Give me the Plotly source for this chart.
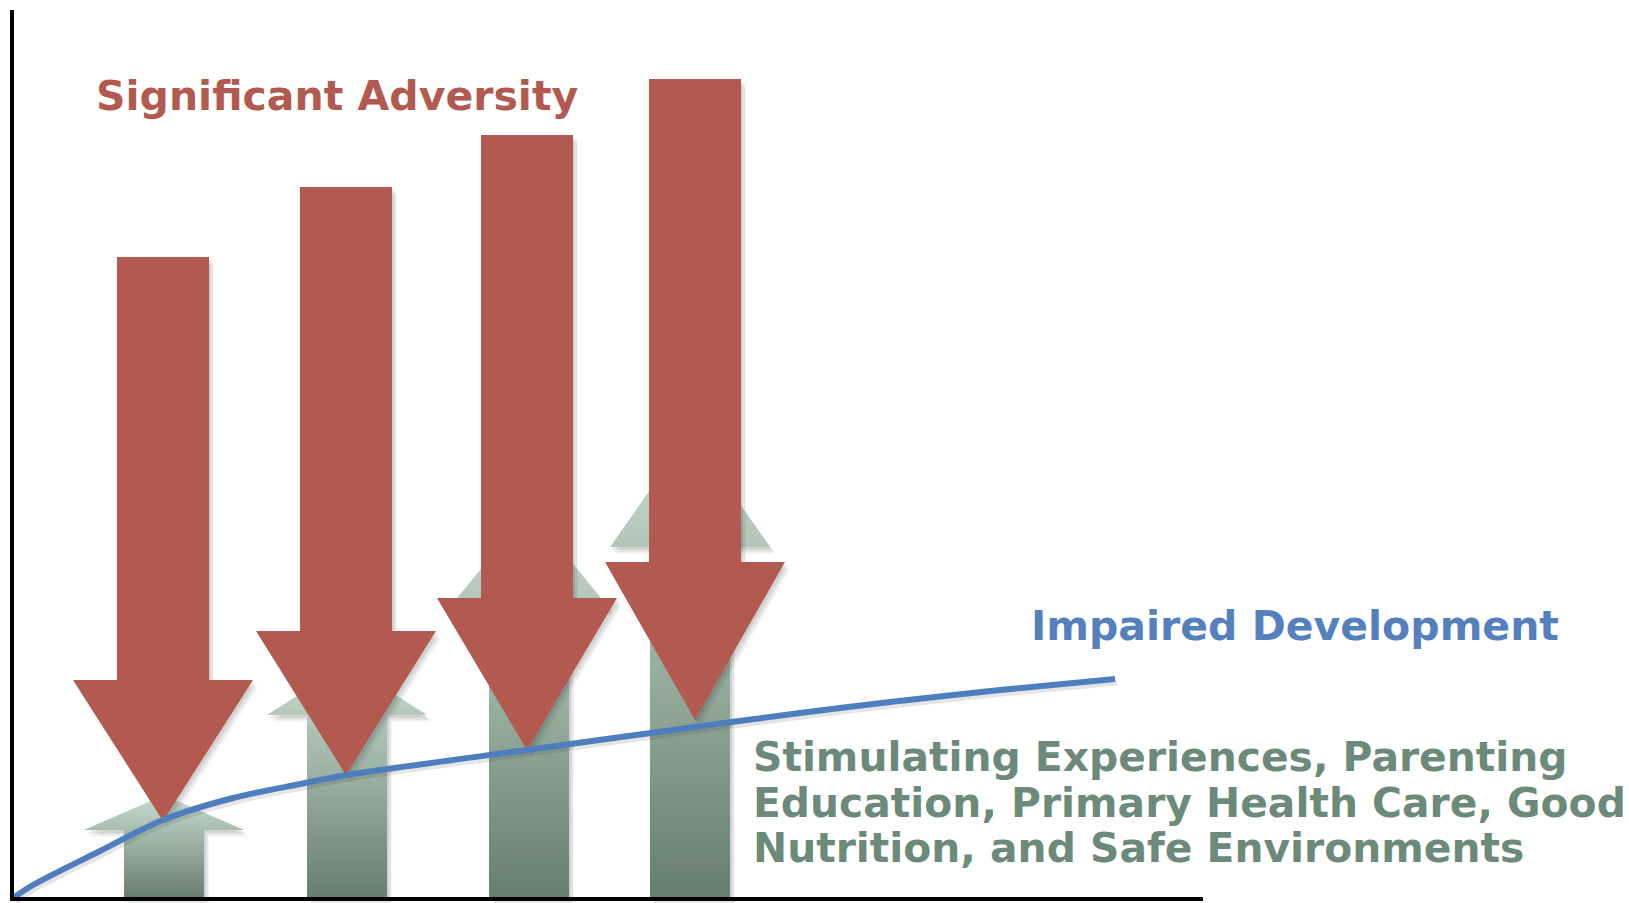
import plotly.graph_objects as go

# ---- data (levels measured upward from the x axis, x measured from the y axis) ----
adversity_x = [150, 333, 514, 682]        # centre of each "Significant Adversity" arrow
adversity_top = [641, 711, 763, 819]      # top of shaft
adversity_head = [218, 267, 300, 336]     # base of arrow head
adversity_tip = [77, 123, 148, 178]       # tip of arrow head

support_x = [151, 334, 516, 677]          # centre of each supportive (green) arrow
support_head = [68, 183, 290, 351]        # base of arrow head
support_apex = [103, 234, 388, 465]       # apex of arrow head

curve_x = [0, 20, 87, 150, 220, 287, 334, 514, 682, 787, 877, 987, 1102]
curve_y = [0, 13, 47, 78, 100, 114, 123, 148, 171, 185, 196, 208, 219]

label_adversity = "Significant Adversity"
label_impaired = "Impaired Development"
label_support = ["Stimulating Experiences, Parenting",
                 "Education, Primary Health Care, Good",
                 "Nutrition, and Safe Environments"]

# ---- styles ----
RED = "#b35a50"
BLUE = "#4f7ebe"
GREEN_TXT = "#6c8a79"
RED_SHAFT, RED_HEAD = 46, 90
GRN_SHAFT, GRN_HEAD = 40, 80
FONT = "DejaVu Sans"

fig = go.Figure()


def red_poly(c, top, head, tip, dx=0, dy=0):
    xs = [c - RED_SHAFT, c + RED_SHAFT, c + RED_SHAFT, c + RED_HEAD, c, c - RED_HEAD, c - RED_SHAFT, c - RED_SHAFT]
    ys = [top, top, head, head, tip, head, head, top]
    return [x + dx for x in xs], [y + dy for y in ys]


def green_poly(c, head, apex, dx=0, dy=0):
    xs = [c - GRN_SHAFT, c + GRN_SHAFT, c + GRN_SHAFT, c + GRN_HEAD, c, c - GRN_HEAD, c - GRN_SHAFT, c - GRN_SHAFT]
    ys = [0, 0, head, head, apex, head, head, 0]
    return [x + dx for x in xs], [y + dy for y in ys]


shadow_layers = [(5, -7, 0.05), (4, -5, 0.07), (2, -3, 0.10)]

# green arrows (behind)
for c, h, a in zip(support_x, support_head, support_apex):
    for dx, dy, al in shadow_layers:
        xs, ys = green_poly(c, h, a, dx, dy)
        fig.add_trace(go.Scatter(x=xs, y=ys, mode="lines", fill="toself",
                                 fillcolor=f"rgba(40,40,40,{al})", line=dict(width=0),
                                 hoverinfo="skip", showlegend=False))
    xs, ys = green_poly(c, h, a)
    fig.add_trace(go.Scatter(x=xs, y=ys, mode="lines", fill="toself",
                             fillgradient=dict(type="vertical",
                                               colorscale=[[0, "#667e6e"], [0.5, "#98ae9f"], [1, "#cadcd0"]]),
                             line=dict(width=0), hoverinfo="skip", showlegend=False))

# red arrows
for c, t, h, p in zip(adversity_x, adversity_top, adversity_head, adversity_tip):
    for dx, dy, al in shadow_layers:
        xs, ys = red_poly(c, t, h, p, dx, dy)
        fig.add_trace(go.Scatter(x=xs, y=ys, mode="lines", fill="toself",
                                 fillcolor=f"rgba(40,40,40,{al})", line=dict(width=0),
                                 hoverinfo="skip", showlegend=False))
    xs, ys = red_poly(c, t, h, p)
    fig.add_trace(go.Scatter(x=xs, y=ys, mode="lines", fill="toself", fillcolor=RED,
                             line=dict(width=0), hoverinfo="skip", showlegend=False))

# impaired development curve
fig.add_trace(go.Scatter(x=[v + 2 for v in curve_x], y=[v - 3 for v in curve_y], mode="lines",
                         line=dict(color="rgba(40,40,40,0.12)", width=7, shape="spline", smoothing=0.9),
                         hoverinfo="skip", showlegend=False))
fig.add_trace(go.Scatter(x=curve_x, y=curve_y, mode="lines",
                         line=dict(color=BLUE, width=6, shape="spline", smoothing=0.9),
                         hoverinfo="skip", showlegend=False))

# axes lines
fig.add_shape(type="line", x0=-1, x1=-1, y0=-3, y1=888, line=dict(color="black", width=4))
fig.add_shape(type="line", x0=-3, x1=1190, y0=-1, y1=-1, line=dict(color="black", width=4))

# labels
fig.add_annotation(x=81, y=802, text=label_adversity, showarrow=False, xanchor="left", yanchor="middle",
                   font=dict(family=FONT, size=41, color=RED, weight="bold"))
fig.add_annotation(x=1016, y=272, text=label_impaired, showarrow=False, xanchor="left", yanchor="middle",
                   font=dict(family=FONT, size=41, color="#5580be", weight="bold"))
for txt, yv in zip(label_support, [141, 95, 50]):
    fig.add_annotation(x=738, y=yv, text=txt, showarrow=False, xanchor="left", yanchor="middle",
                       font=dict(family=FONT, size=40.8, color=GREEN_TXT, weight="bold"))

fig.update_layout(
    width=1629, height=903,
    margin=dict(l=0, r=0, t=0, b=0),
    paper_bgcolor="white", plot_bgcolor="white",
    xaxis=dict(range=[-13, 1616], visible=False, fixedrange=True),
    yaxis=dict(range=[-5, 898], visible=False, fixedrange=True),
    showlegend=False,
)

fig.write_html("out.html", config={"displayModeBar": False},
               post_script="document.body.style.margin='0';document.body.style.overflow='hidden';")
